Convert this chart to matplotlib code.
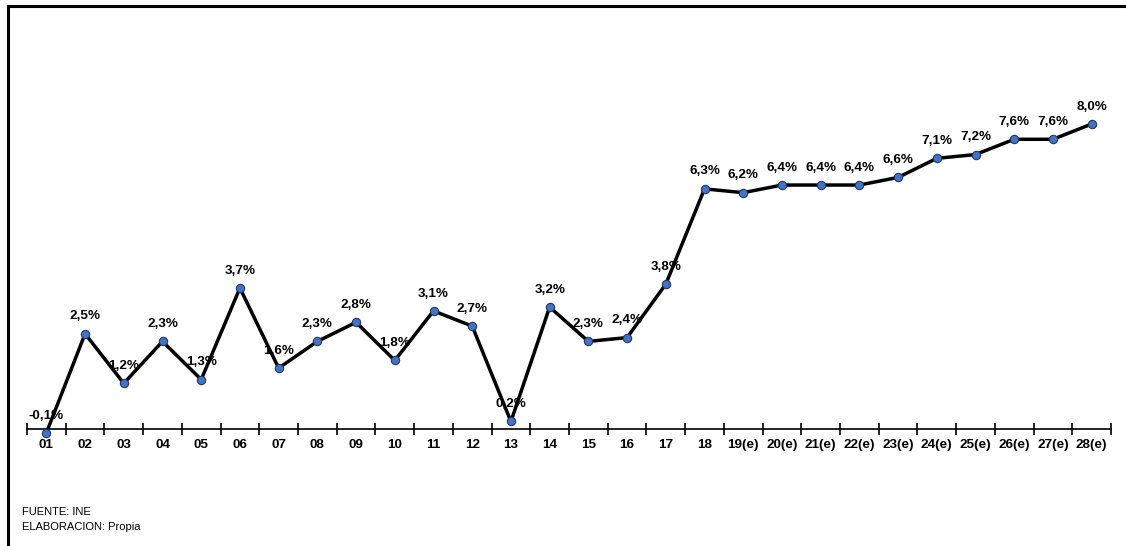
import numpy as np
import matplotlib
matplotlib.use('Agg')
import matplotlib.pyplot as plt
from matplotlib.lines import Line2D

plt.rcParams['font.family'] = ['Liberation Sans', 'DejaVu Sans']

categories = ['01', '02', '03', '04', '05', '06', '07', '08', '09', '10',
              '11', '12', '13', '14', '15', '16', '17', '18', '19(e)', '20(e)',
              '21(e)', '22(e)', '23(e)', '24(e)', '25(e)', '26(e)', '27(e)', '28(e)']
values = [-0.1, 2.5, 1.2, 2.3, 1.3, 3.7, 1.6, 2.3, 2.8, 1.8,
          3.1, 2.7, 0.2, 3.2, 2.3, 2.4, 3.8, 6.3, 6.2, 6.4,
          6.4, 6.4, 6.6, 7.1, 7.2, 7.6, 7.6, 8.0]
labels = ['{:.1f}%'.format(v).replace('.', ',') for v in values]

fig = plt.figure(figsize=(11.26, 5.46), dpi=100)
ax = fig.add_axes([27 / 1126, 86 / 546, 1084 / 1126, 360 / 546])

x = np.arange(len(categories))
ax.plot(x, values, color='black', lw=2.5, zorder=3,
        marker='o', ms=6, mfc='#4472C4', mec='#1F3864', mew=0.8)

for xi, v, lab in zip(x, values, labels):
    ax.annotate(lab, (xi, v), xytext=(0, 12.5), textcoords='offset points',
                ha='center', va='center', fontsize=9.7, fontweight='bold', zorder=2)

ax.set_xlim(-0.5, len(categories) - 0.5)
ax.set_ylim(-0.81, 8.63)
ax.set_yticks([])
for s in ['top', 'right', 'left']:
    ax.spines[s].set_visible(False)
ax.spines['bottom'].set_position(('data', 0))
ax.spines['bottom'].set_linewidth(1.2)

ax.set_xticks(np.arange(len(categories) + 1) - 0.5)
ax.set_xticklabels([])
ax.tick_params(axis='x', which='major', direction='inout', length=8, width=1.2)
ax.set_xticks(x, minor=True)
ax.set_xticklabels(categories, minor=True, fontsize=9.7, fontweight='bold')
ax.tick_params(axis='x', which='minor', length=0, pad=7)

# outer frame (top and left only visible)
fig.add_artist(Line2D([8 / 1126, 1], [1 - 6 / 546, 1 - 6 / 546], color='black', lw=2.2,
                      transform=fig.transFigure))
fig.add_artist(Line2D([8 / 1126, 8 / 1126], [0, 1 - 6 / 546], color='black', lw=2.2,
                      transform=fig.transFigure))

fig.text(22 / 1126, 1 - 512 / 546, 'FUENTE: INE', fontsize=8, va='center', ha='left')
fig.text(22 / 1126, 1 - 527 / 546, 'ELABORACION: Propia', fontsize=8, va='center', ha='left')

fig.savefig('out.png', dpi=100)
